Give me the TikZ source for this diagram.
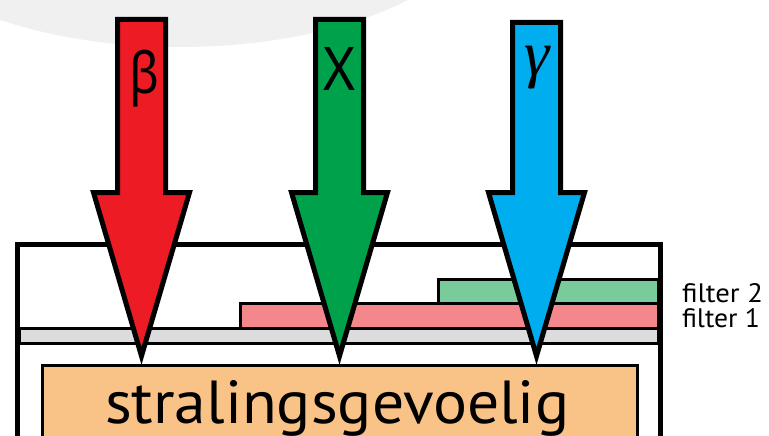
\documentclass[tikz,border=0pt]{standalone}
\usepackage{fontspec}
\setmainfont{PT Sans}
\newfontfamily\grk{Noto Sans}
\newfontfamily\grkserif{Liberation Serif}
\usepackage{graphicx}
\definecolor{bgarc}{HTML}{F0F0F1}
\definecolor{rayred}{HTML}{ED1C24}
\definecolor{raygreen}{HTML}{00A14B}
\definecolor{rayblue}{HTML}{00AEEF}
\definecolor{filtgreen}{HTML}{79CB9C}
\definecolor{filtred}{HTML}{F4878C}
\definecolor{stripgray}{HTML}{DCDCDE}
\definecolor{sensor}{HTML}{F9C387}
\newcommand\rayarrow[3]{%
  \draw[rayline,fill=#3]
    (#1-24,#2) -- (#1+24,#2) -- (#1+24,192.5) -- (#1+48,192.5)
    -- (#1,356) -- (#1-48,192.5) -- (#1-24,192.5) -- cycle;}
\tikzset{
  rayline/.style={draw=black,line width=5pt,line join=miter},
  boxline/.style={draw=black,line width=5pt},
  thinline/.style={draw=black,line width=3pt},
  lbl/.style={inner sep=0pt,outer sep=0pt}
}
\begin{document}
\begin{tikzpicture}[x=1pt,y=-1pt]
\useasboundingbox (0,0) rectangle (769,436);
\begin{scope}
\clip (0,0) rectangle (769,436);
\fill[bgarc] (180,-100) ellipse [x radius=311, y radius=147];
% outer housing
\draw[boxline] (17.5,450) -- (17.5,244.5) -- (660,244.5) -- (660,450);
% filters
\draw[thinline,fill=filtgreen] (438,279) rectangle (658,303.5);
\draw[thinline,fill=filtred] (240,303.5) rectangle (658,328);
\draw[thinline,fill=stripgray] (19,328) rectangle (658,343);
% sensitive layer
\draw[thinline,fill=sensor] (42,365.5) rectangle (637,460);
\node[lbl,anchor=base west] (sens) at (105,423) {\resizebox{464pt}{43pt}{stralingsgevoelig}};
% arrows
\rayarrow{141.5}{19.5}{rayred}
\rayarrow{339.5}{19.5}{raygreen}
\rayarrow{536.5}{22.5}{rayblue}
\end{scope}
% ray labels
\node[lbl,anchor=north] (beta) at (145,50) {\resizebox*{30pt}{57pt}{\grk β}};
\node[lbl,anchor=north] (xray) at (339,47) {\resizebox{32pt}{43pt}{\grk X}};
\node[lbl,anchor=base] (gamma) at (537,76) {\fontsize{64}{64}\selectfont\grkserif\itshape γ};
% filter labels
\node[lbl,anchor=base west] (f2) at (682,302) {\resizebox{81pt}{19pt}{filter 2}};
\node[lbl,anchor=base west] (f1) at (682,327) {\resizebox{78pt}{19pt}{filter 1}};
\end{tikzpicture}
\end{document}
